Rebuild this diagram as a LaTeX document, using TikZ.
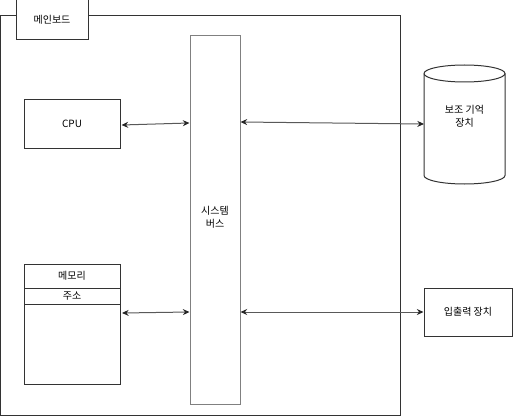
\documentclass[tikz,border=0pt]{standalone}
\usepackage{fontspec}
\newfontfamily\kr{Noto Sans CJK KR}
\usetikzlibrary{arrows.meta,shapes.geometric}
\begin{document}
\begin{tikzpicture}[x=0.75pt,y=-0.75pt,
  box/.style={draw=black!80,line width=0.75pt,fill=white,inner sep=0pt,font=\kr\fontsize{7.5}{10}\selectfont},
  conn/.style={draw=black!65,line width=0.75pt,{Stealth[length=5pt,width=4.5pt,black!85]}-{Stealth[length=5pt,width=4.5pt,black!85]}},
  lbl/.style={font=\kr\fontsize{7.5}{10}\selectfont,align=center,inner sep=0pt}]
\useasboundingbox (0,0) rectangle (513,417);
% mainboard
\draw[draw=black!80,line width=0.75pt] (0.5,16) rectangle (400,415);
\node[box,minimum width=72*0.75pt,minimum height=40*0.75pt] (mb) at (52,20) {메인보드};
% CPU
\node[box,minimum width=96*0.75pt,minimum height=48*0.75pt] (cpu) at (72,124) {CPU};
% bus
\node[box,draw=black!50,minimum width=50*0.75pt,minimum height=368*0.75pt] (bus) at (215,220) {};
\node[lbl] (bustxt) at (215,217) {시스템\\버스};
% memory
\node[box,minimum width=96*0.75pt,minimum height=120*0.75pt] (mem) at (72,324) {};
\draw[draw=black!80,line width=0.75pt] (24,288) -- (120,288) (24,304) -- (120,304);
\node[lbl] (memtxt) at (72,276) {메모리};
\node[lbl] (addr) at (72,296) {주소};
% storage cylinder
\draw[draw=black!80,line width=0.75pt,fill=white]
  (424,73.5) -- (424,175.5) arc[start angle=180,end angle=0,x radius=40.5,y radius=8.5]
  -- (505,73.5) arc[start angle=0,end angle=-180,x radius=40.5,y radius=8.5];
\draw[draw=black!80,line width=0.75pt] (424,73.5) arc[start angle=180,end angle=0,x radius=40.5,y radius=8.5];
\node[lbl] (stor) at (464.5,116) {보조 기억\\장치};
\coordinate (cylw) at (424,124);
% IO
\node[box,minimum width=88*0.75pt,minimum height=48*0.75pt] (io) at (468,312) {입출력 장치};
% connectors
\draw[conn] (cpu.east) ++(1,1) coordinate (c1) -- (bus.west |- 0,123);
\draw[conn] (122,313) coordinate (m1) -- (bus.west |- 0,312);
\draw[conn] (bus.east |- 0,122) -- (cylw);
\draw[conn] (bus.east |- 0,312) -- (io.west);
\end{tikzpicture}
\end{document}
